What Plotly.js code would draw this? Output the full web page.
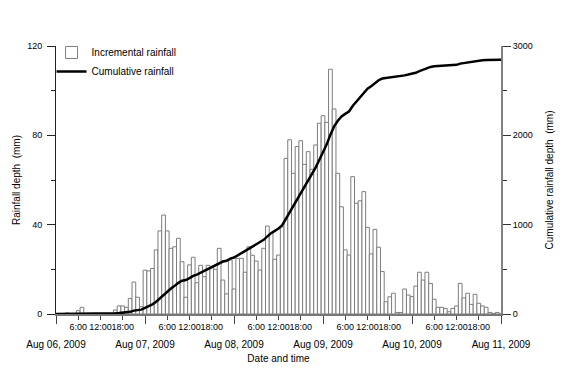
<!DOCTYPE html>
<html>
<head>
<meta charset="utf-8">
<script src="https://cdn.plot.ly/plotly-3.0.1.min.js"></script>
<style>
  body { margin: 0; background: #fff; }
  #plotter { width: 564px; height: 380px; }
</style>
</head>
<body>
<div id="plotter"></div>
<script>
// hourly rainfall (mm), one bar per hour from Aug 06 00:00 to Aug 11 00:00
var incremental = [
    0, 0, 0, 0.5, 0, 0, 1.5, 3, 0, 0, 0, 0,
    0, 0, 0, 0, 1.8, 3.6, 3.6, 3, 7, 14.3, 7.5, 3.3,
    19.6, 19.3, 20.4, 28.7, 37.2, 44.3, 37.2, 29.4, 30.1, 33.9, 23.4, 7.5,
    22, 25.4, 14, 21.8, 16.7, 21.8, 20.9, 20, 29.4, 15.2, 9, 24.2,
    11.2, 24.9, 24.9, 18.7, 30.1, 26.3, 23.7, 19.7, 29.4, 39.4, 36.1, 24.5,
    26.4, 39, 69.7, 78, 63, 75, 77.6, 67, 72.7, 64.8, 75.7, 85.4,
    88.8, 85.8, 109.6, 91.8, 63, 48, 28.7, 26.4, 61.5, 49.6, 50.7, 54.8,
    38.8, 26.9, 37.9, 29.9, 19, 5.5, 7.7, 9.3, 0.7, 0.7, 11.2, 8.5,
    7.8, 12.5, 18.7, 15.2, 18.7, 13.7, 6.6, 3, 3, 2.5, 1, 2.5,
    3.6, 13.7, 7.2, 9.3, 4.3, 8.8, 4.8, 3.6, 3, 0.7, 0.3, 0.7,
    0
];

// cumulative rainfall (mm), same hourly steps
var cumulative = [
    0, 0, 0, 0.5, 0.5, 0.5, 2, 5, 5, 5, 5, 5,
    5, 5, 5, 5, 7, 10, 14, 17, 24, 38, 46, 49,
    69, 88, 108, 137, 174, 218, 256, 285, 315, 349, 372, 380,
    402, 427, 441, 463, 480, 502, 523, 543, 572, 587, 596, 620,
    632, 657, 682, 700, 730, 757, 780, 800, 830, 869, 905, 930,
    956, 995, 1065, 1143, 1206, 1281, 1359, 1426, 1498, 1563, 1639, 1724,
    1813, 1899, 2008, 2100, 2163, 2211, 2240, 2266, 2328, 2377, 2428, 2483,
    2522, 2549, 2587, 2617, 2636, 2641, 2649, 2658, 2659, 2660, 2671, 2680,
    2688, 2700, 2719, 2734, 2753, 2766, 2773, 2776, 2779, 2782, 2783, 2785,
    2789, 2803, 2810, 2819, 2823, 2832, 2837, 2840, 2843, 2844, 2844, 2845,
    2845
];

var dayTicks = [0, 24, 48, 72, 96, 120];
var dayLabels = ['Aug 06, 2009', 'Aug 07, 2009', 'Aug 08, 2009',
                 'Aug 09, 2009', 'Aug 10, 2009', 'Aug 11, 2009'];
var timeTicks = [6, 12, 18, 30, 36, 42, 54, 60, 66, 78, 84, 90, 102, 108, 114];
var timeLabels = ['6:00', '12:00', '18:00', '6:00', '12:00', '18:00',
                  '6:00', '12:00', '18:00', '6:00', '12:00', '18:00',
                  '6:00', '12:00', '18:00'];

var font = 'Liberation Sans, Arial, sans-serif';

var data = [{
    type: 'bar',
    name: 'Incremental rainfall',
    y: incremental,
    x0: 0,
    dx: 1,
    marker: {color: 'white', line: {color: 'rgb(125,125,125)', width: 1}},
    xaxis: 'x',
    yaxis: 'y'
}, {
    type: 'scatter',
    mode: 'lines',
    name: 'Cumulative rainfall',
    y: cumulative,
    x0: 0,
    dx: 1,
    line: {color: 'black', width: 2.5},
    xaxis: 'x2',
    yaxis: 'y2'
}];

var layout = {
    width: 564,
    height: 380,
    margin: {l: 56, r: 63, t: 46, b: 66},
    paper_bgcolor: 'white',
    plot_bgcolor: 'white',
    font: {family: font, size: 10, color: 'black'},
    bargap: 0,
    showlegend: true,
    legend: {
        x: -0.01, y: 1.03, xanchor: 'left', yanchor: 'top',
        font: {size: 10}, bgcolor: 'rgba(0,0,0,0)', itemwidth: 30,
        tracegroupgap: 0
    },
    xaxis: {
        range: [0, 120],
        tickmode: 'array', tickvals: dayTicks, ticktext: dayLabels,
        ticks: 'outside', ticklen: 8, tickcolor: '#444', tickwidth: 1,
        ticklabelstandoff: 12,
        tickfont: {size: 10},
        minor: {dtick: 6, tick0: 0, ticks: 'outside', ticklen: 4, tickcolor: '#444'},
        showline: true, linecolor: '#777', linewidth: 1.5,
        showgrid: false, zeroline: false,
        title: {text: 'Date and time', font: {size: 10}, standoff: 6}
    },
    xaxis2: {
        overlaying: 'x', anchor: 'y2', side: 'bottom',
        range: [0, 120],
        tickmode: 'array', tickvals: timeTicks, ticktext: timeLabels,
        ticks: '', ticklabelstandoff: 6, tickangle: 0,
        tickfont: {size: 9},
        showline: false, showgrid: false, zeroline: false
    },
    yaxis: {
        range: [0, 120],
        tickmode: 'array', tickvals: [0, 40, 80, 120],
        ticks: 'outside', ticklen: 8, tickcolor: '#222',
        ticklabelstandoff: 3,
        minor: {dtick: 20, ticks: 'outside', ticklen: 4, tickcolor: '#222'},
        tickfont: {size: 9},
        showline: true, linecolor: '#222', linewidth: 1,
        showgrid: false, zeroline: false,
        title: {text: 'Rainfall depth  (mm)', font: {size: 10}, standoff: 4}
    },
    yaxis2: {
        overlaying: 'y', side: 'right', anchor: 'x2',
        range: [0, 3000],
        tickmode: 'array', tickvals: [0, 1000, 2000, 3000],
        ticks: 'outside', ticklen: 8, tickcolor: '#333',
        minor: {dtick: 500, ticks: 'outside', ticklen: 4, tickcolor: '#333'},
        tickfont: {size: 9},
        showline: true, linecolor: 'rgb(128,128,128)', linewidth: 2,
        showgrid: false, zeroline: false,
        title: {text: 'Cumulative rainfall depth  (mm)', font: {size: 10}, standoff: 14}
    }
};

Plotly.newPlot('plotter', data, layout, {displayModeBar: false, staticPlot: true});
</script>
</body>
</html>
